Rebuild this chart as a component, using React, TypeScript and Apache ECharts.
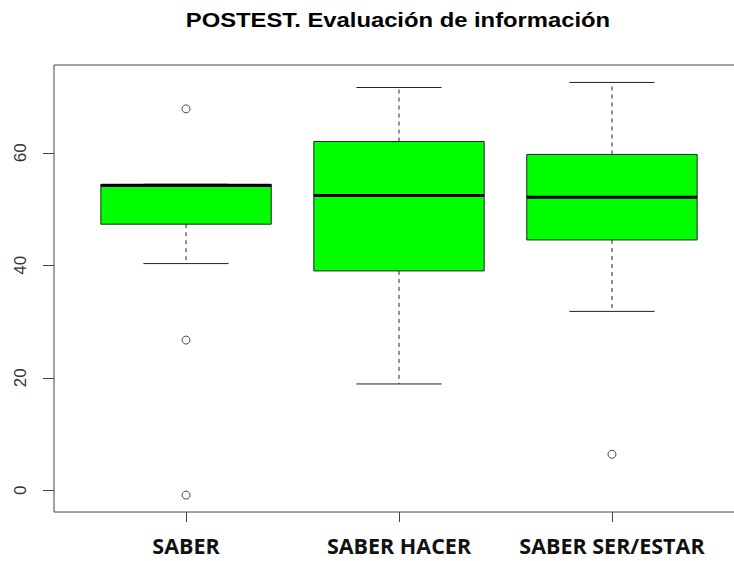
import React, { useEffect, useRef } from "react";
import * as echarts from "echarts";

const categories = ["SABER", "SABER HACER", "SABER SER/ESTAR"];
const categoryPos = [1, 2, 3];
const whiskerLow = [40.3, 18.9, 31.8];
const q1 = [47.3, 39.0, 44.5];
const median = [54.2, 52.4, 52.1];
const q3 = [54.4, 62.0, 59.7];
const whiskerHigh = [54.4, 71.6, 72.5];
const outlierCat = [1, 1, 1, 3];
const outlierVal = [67.8, 26.7, -0.85, 6.4];
const yTicks = [0, 20, 40, 60];
const titleText = "POSTEST. Evaluación de información";

export default function App() {
  const ref = useRef<HTMLDivElement>(null);
  useEffect(() => {
    document.body.style.margin = "0";
    const chart = echarts.init(ref.current!, null, { renderer: "svg" });
    const boxData = categoryPos.map((x, i) => [x, whiskerLow[i], q1[i], median[i], q3[i], whiskerHigh[i]]);
    const outData = outlierCat.map((c, i) => [c, outlierVal[i]]);
    const lineColor = "#222";
    chart.setOption({
      animation: false,
      graphic: [
        {
          type: "text",
          x: 398,
          y: 20,
          scaleX: 1.19,
          style: {
            text: titleText,
            font: "bold 20px 'Liberation Sans', Arial, sans-serif",
            fill: "#000",
            textAlign: "center",
            textVerticalAlign: "middle",
          },
        },
      ],
      grid: {
        left: 54,
        top: 65,
        bottom: 49,
        right: -10,
        outerBoundsMode: "none",
        containLabel: false,
        show: true,
        borderColor: "#444",
        borderWidth: 1,
      },
      xAxis: {
        type: "value",
        min: 0.38,
        max: 3.62,
        axisLine: { show: false, onZero: false },
        splitLine: { show: false },
        axisTick: { show: true, customValues: categoryPos, length: 10, lineStyle: { color: "#444" } },
        axisLabel: {
          customValues: categoryPos,
          formatter: (v: number) => categories[Math.round(v) - 1] ?? "",
          fontFamily: "'Open Sans', sans-serif",
          fontWeight: "bold",
          fontSize: 21.5,
          color: "#111",
          margin: 22,
        },
      },
      yAxis: {
        type: "value",
        min: -3.86,
        max: 75.6,
        axisLine: { show: false, onZero: false },
        splitLine: { show: false },
        axisTick: { show: true, customValues: yTicks, length: 11, lineStyle: { color: "#444" } },
        axisLabel: {
          customValues: yTicks,
          rotate: 90,
          fontFamily: "'Liberation Sans', Arial, sans-serif",
          fontSize: 17,
          color: "#333",
          margin: 25,
        },
      },
      series: [
        {
          type: "custom",
          data: boxData,
          encode: { x: 0, y: [1, 2, 3, 4, 5] },
          renderItem: (params: any, api: any) => {
            const x = api.value(0);
            const unit = api.size([1, 0])[0];
            const halfBox = unit * 0.4;
            const halfStaple = unit * 0.2;
            const cx = api.coord([x, 0])[0];
            const yLo = api.coord([x, api.value(1)])[1];
            const yQ1 = api.coord([x, api.value(2)])[1];
            const yMed = api.coord([x, api.value(3)])[1];
            const yQ3 = api.coord([x, api.value(4)])[1];
            const yHi = api.coord([x, api.value(5)])[1];
            const dashed = { stroke: lineColor, lineWidth: 1, lineDash: [4, 4] };
            const solid = { stroke: lineColor, lineWidth: 1 };
            return {
              type: "group",
              children: [
                { type: "line", shape: { x1: cx, y1: yQ3, x2: cx, y2: yHi }, style: dashed },
                { type: "line", shape: { x1: cx, y1: yQ1, x2: cx, y2: yLo }, style: dashed },
                { type: "line", shape: { x1: cx - halfStaple, y1: yHi, x2: cx + halfStaple, y2: yHi }, style: solid },
                { type: "line", shape: { x1: cx - halfStaple, y1: yLo, x2: cx + halfStaple, y2: yLo }, style: solid },
                {
                  type: "rect",
                  shape: { x: cx - halfBox, y: yQ3, width: halfBox * 2, height: yQ1 - yQ3 },
                  style: { fill: "#00ff00", stroke: lineColor, lineWidth: 1 },
                },
                { type: "line", shape: { x1: cx - halfBox, y1: yMed, x2: cx + halfBox, y2: yMed }, style: { stroke: "#000", lineWidth: 3 } },
              ],
            };
          },
        },
        {
          type: "scatter",
          data: outData,
          symbol: "circle",
          symbolSize: 8,
          itemStyle: { color: "#fff", borderColor: "#222", borderWidth: 1 },
        },
      ],
    });
    return () => chart.dispose();
  }, []);
  return <div ref={ref} style={{ width: 734, height: 561 }} />;
}
